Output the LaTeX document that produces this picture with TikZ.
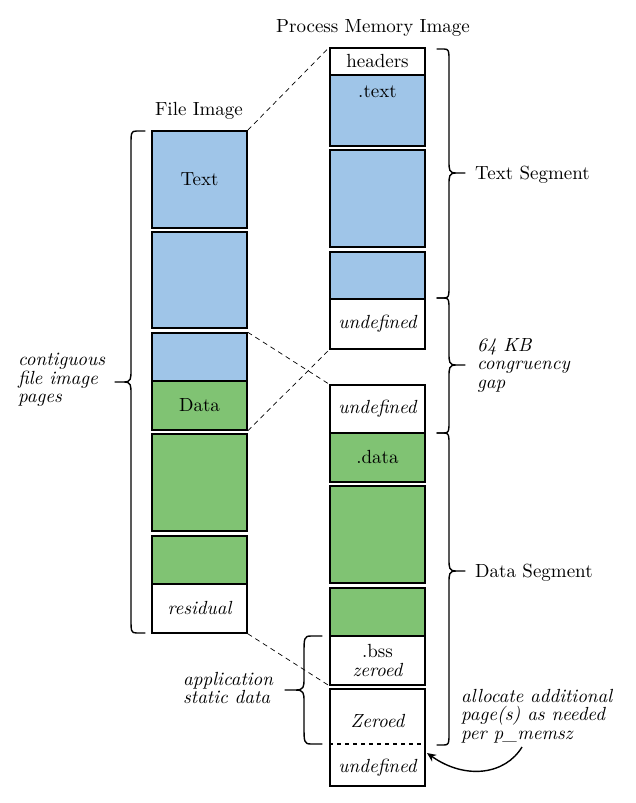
\documentclass[tikz,border=0pt]{standalone}
\usepackage{fontspec}
\setmainfont{lmroman10}[Extension=.otf, UprightFont=*-regular, ItalicFont=*-italic, BoldFont=*-bold, BoldItalicFont=*-bolditalic]
\usetikzlibrary{arrows.meta}
\definecolor{blu}{RGB}{159,197,232}
\definecolor{grn}{RGB}{128,195,115}
\newcommand\myfs{\fontsize{19}{18.5}\selectfont}
\tikzset{
  page/.style={draw, line width=1.5pt, minimum width=95pt, inner sep=0pt, font=\myfs},
  txt/.style={inner sep=0pt, font=\myfs},
  itxt/.style={inner sep=0pt, font=\myfs\itshape, align=left, anchor=west},
  conn/.style={dash pattern=on 5pt off 4pt, line width=0.7pt},
  brline/.style={line width=1.4pt, line join=round, line cap=round},
}
% #1 x of ends, #2 y top, #3 y bottom, #4 y tip, #5 hook width (signed), #6 tip offset (signed)
\newcommand\mybrace[6]{%
  \pgfmathsetmacro\hx{#1+0.6*#5}%
  \pgfmathsetmacro\bx{#1+#5}%
  \pgfmathsetmacro\sx{#1+#5+0.45*(#6-#5)}%
  \pgfmathsetmacro\tx{#1+#6}%
  \pgfmathsetmacro\hk{abs(#5)}%
  \draw[brline] (#1,#2) -- (\hx,#2) .. controls (\bx,#2) and (\bx,#2+2) .. (\bx,#2+\hk)
    -- (\bx,#4-12) .. controls (\bx,#4-3) and (\bx,#4) .. (\sx,#4) -- (\tx,#4)
    -- (\sx,#4) .. controls (\bx,#4) and (\bx,#4+3) .. (\bx,#4+12)
    -- (\bx,#3-\hk) .. controls (\bx,#3-2) and (\bx,#3) .. (\hx,#3) -- (#1,#3);}
\begin{document}
\begin{tikzpicture}[x=1pt,y=-1pt]
\useasboundingbox (0,0) rectangle (636,803);
% titles
\node[txt] (t1) at (373,28) {Process Memory Image};
\node[txt] (t2) at (199,111) {File Image};
% file image column
\node[page, fill=blu, minimum height=97pt] (f1) at (199.5,179.5) {Text};
\node[page, fill=blu, minimum height=96pt] (f2) at (199.5,280) {};
\node[page, fill=blu, minimum height=48pt] (f3a) at (199.5,357) {};
\node[page, fill=grn, minimum height=49pt] (f3b) at (199.5,405.5) {Data};
\node[page, fill=grn, minimum height=97pt] (f4) at (199.5,482.5) {};
\node[page, fill=grn, minimum height=48pt] (f5a) at (199.5,560) {};
\node[page, fill=white, minimum height=49pt, font=\myfs\itshape] (f5b) at (199.5,608.5) {residual};
% memory image column
\node[page, fill=white, minimum height=27pt] (m0) at (377.5,61.5) {headers};
\node[page, fill=blu, minimum height=71pt] (m1) at (377.5,110.5) {};
\node[txt] (m1t) at (377.5,92) {.text};
\node[page, fill=blu, minimum height=97pt] (m2) at (377.5,198.5) {};
\node[page, fill=blu, minimum height=47pt] (m3a) at (377.5,275.5) {};
\node[page, fill=white, minimum height=50pt, font=\myfs\itshape] (m3b) at (377.5,324) {undefined};
\node[page, fill=white, minimum height=48pt, font=\myfs\itshape] (m4a) at (377.5,409) {undefined};
\node[page, fill=grn, minimum height=49pt] (m4b) at (377.5,457.5) {.data};
\node[page, fill=grn, minimum height=97pt] (m5) at (377.5,534.5) {};
\node[page, fill=grn, minimum height=48pt] (m6a) at (377.5,612) {};
\node[page, fill=white, minimum height=49pt, align=center] (m6b) at (377.5,660.5) {.bss\\\itshape zeroed};
\node[page, fill=white, minimum height=97pt] (m7) at (377.5,737.5) {};
\node[txt, font=\myfs\itshape] (m7t) at (377.5,721) {Zeroed};
\node[txt, font=\myfs\itshape] (m7b) at (377.5,768) {undefined};
\coordinate (d1) at (m7.west |- 0,744);
\coordinate (d2) at (m7.east |- 0,744);
\draw[dash pattern=on 4pt off 4pt, line width=1.2pt] (d1) -- (d2);
% dashed connectors
\draw[conn] (f1.north east) -- (m0.north west);
\draw[conn] (f3a.north east) -- (m4a.north west);
\draw[conn] (f3b.south east) -- (m3b.south west);
\draw[conn] (f5b.south east) -- (m6b.south west);
% braces
\mybrace{145}{131}{633}{382}{-14}{-30}
\node[itxt] (lbl) at (18,380) {contiguous\\file image\\pages};
\mybrace{437}{49}{298}{173}{12}{28}
\mybrace{437}{298}{433}{365}{12}{28}
\mybrace{437}{433}{745}{571}{12}{28}
\node[txt, anchor=west] (ts) at (475,175) {Text Segment};
\node[itxt] (gap) at (477,365) {64 KB\\congruency\\gap};
\node[txt, anchor=west] (ds) at (475,573) {Data Segment};
\mybrace{322}{636}{744}{690}{-18}{-37}
\node[itxt] (app) at (183,688) {application\\static data};
% allocate note
\node[itxt] (alloc) at (461,716) {allocate additional\\page(s) as needed\\per p\_memsz};
\coordinate (as) at (522,747);
\coordinate (ae) at (427,753);
\draw[line width=1.4pt, -{Stealth[length=9pt,width=8pt]}] (as) .. controls (505,775) and (465,780) .. (ae);
\end{tikzpicture}
\end{document}
